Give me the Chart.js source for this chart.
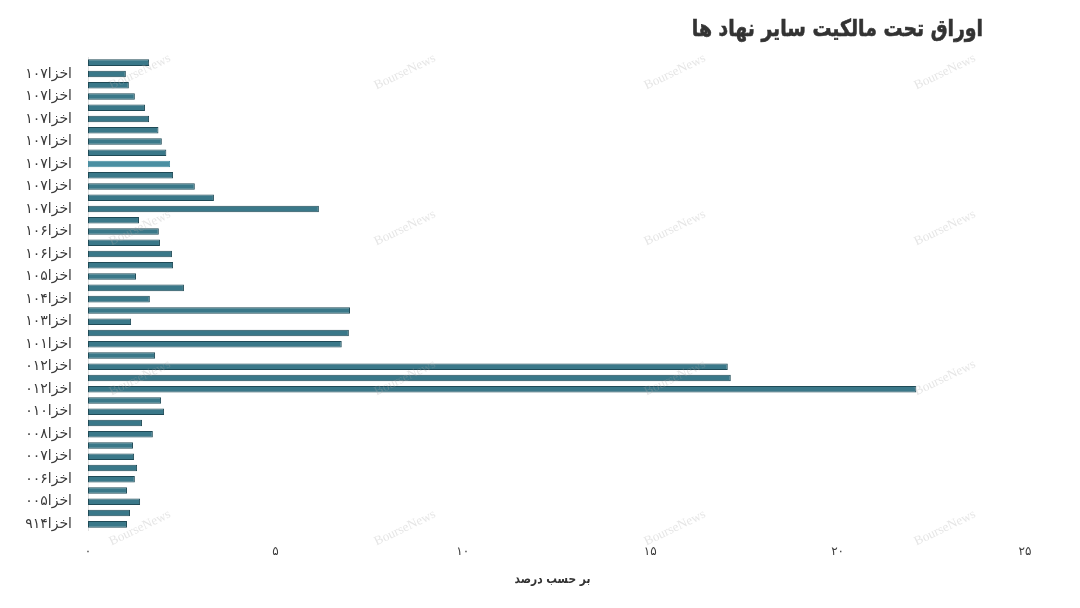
<!DOCTYPE html>
<html>
<head>
<meta charset="utf-8">
<title>اوراق تحت مالکیت سایر نهاد ها</title>
<script src="https://cdn.jsdelivr.net/npm/chart.js@4.4.0/dist/chart.umd.min.js"></script>
<style>
    html, body { margin: 0; padding: 0; background: #ffffff; }
    #wrap { width: 1080px; height: 608px; }
</style>
</head>
<body>
<div id="wrap"><canvas id="chart" width="1080" height="608"></canvas></div>
<script>
// Categories, top to bottom (only every other one is labelled in the original)
const categories = [
    'اخزا۱۰۷', 'اخزا۱۰۷', 'اخزا۱۰۷', 'اخزا۱۰۷', 'اخزا۱۰۷', 'اخزا۱۰۷',
    'اخزا۱۰۷', 'اخزا۱۰۷', 'اخزا۱۰۷', 'اخزا۱۰۷', 'اخزا۱۰۷', 'اخزا۱۰۷',
    'اخزا۱۰۷', 'اخزا۱۰۷', 'اخزا۱۰۶', 'اخزا۱۰۶', 'اخزا۱۰۶', 'اخزا۱۰۶',
    'اخزا۱۰۵', 'اخزا۱۰۵', 'اخزا۱۰۴', 'اخزا۱۰۴', 'اخزا۱۰۳', 'اخزا۱۰۳',
    'اخزا۱۰۲', 'اخزا۱۰۱', 'اخزا۱۰۰', 'اخزا۰۱۲', 'اخزا۰۱۲', 'اخزا۰۱۲',
    'اخزا۰۱۱', 'اخزا۰۱۰', 'اخزا۰۰۹', 'اخزا۰۰۸', 'اخزا۰۰۸', 'اخزا۰۰۷',
    'اخزا۰۰۷', 'اخزا۰۰۶', 'اخزا۰۰۶', 'اخزا۰۰۵', 'اخزا۹۱۵', 'اخزا۹۱۴'
];

// Share held by other institutions (percent), same order as categories
const shares = [
    1.63, 1.01, 1.09, 1.25, 1.52, 1.63, 1.88, 1.97, 2.09, 2.19, 2.27, 2.85,
    3.36, 6.16, 1.36, 1.89, 1.92, 2.24, 2.27, 1.28, 2.56, 1.65, 6.99, 1.15,
    6.96, 6.77, 1.79, 17.07, 17.15, 22.1, 1.95, 2.03, 1.44, 1.73, 1.20, 1.23,
    1.31, 1.25, 1.04, 1.39, 1.12, 1.04
];

const xTickValues = [0, 5, 10, 15, 20, 25];
const chartTitle = 'اوراق تحت مالکیت سایر نهاد ها';
const axisTitle = 'بر حسب درصد';
const watermark = 'BourseNews';

const FONT = "'DejaVu Sans', sans-serif";

function toPersianDigits(n) {
    return String(n).replace(/\d/g, d => '۰۱۲۳۴۵۶۷۸۹'[d]);
}

// Title in the top right corner (heavy, slightly condensed)
const titlePlugin = {
    id: 'cornerTitle',
    afterDraw(chart) {
        const ctx = chart.ctx;
        ctx.save();
        ctx.font = "bold 23px " + FONT;
        ctx.fillStyle = '#333333';
        ctx.textAlign = 'right';
        ctx.textBaseline = 'middle';
        ctx.direction = 'rtl';
        ctx.translate(983, 30);
        ctx.scale(0.82, 1);
        ctx.fillText(chartTitle, 0, 0);
        ctx.strokeStyle = '#333333';
        ctx.lineWidth = 0.6;
        ctx.strokeText(chartTitle, 0, 0);
        ctx.restore();
    }
};

// Axis caption under the x ticks
const captionPlugin = {
    id: 'axisCaption',
    afterDraw(chart) {
        const ctx = chart.ctx;
        const area = chart.chartArea;
        ctx.save();
        ctx.font = "bold 13px " + FONT;
        ctx.fillStyle = '#333333';
        ctx.textAlign = 'center';
        ctx.textBaseline = 'alphabetic';
        ctx.direction = 'rtl';
        ctx.translate((area.left + area.right) / 2 - 4, 583);
        ctx.scale(0.82, 1);
        ctx.fillText(axisTitle, 0, 0);
        ctx.restore();
    }
};

// Faint diagonal watermark grid
const watermarkPlugin = {
    id: 'watermark',
    afterDraw(chart) {
        const ctx = chart.ctx;
        const cols = [140, 405, 675, 945];
        const rows = [72, 228, 378, 528];
        ctx.save();
        ctx.font = "13px 'Liberation Serif', serif";
        ctx.fillStyle = 'rgba(170, 170, 170, 0.3)';
        ctx.textAlign = 'center';
        ctx.textBaseline = 'middle';
        rows.forEach(y => {
            cols.forEach(x => {
                ctx.save();
                ctx.translate(x, y);
                ctx.rotate(-0.45);
                ctx.fillText(watermark, 0, 0);
                ctx.restore();
            });
        });
        ctx.restore();
    }
};

const ctx = document.getElementById('chart');

new Chart(ctx, {
    type: 'bar',
    data: {
        labels: categories,
        datasets: [{
            data: shares,
            backgroundColor: shares.map((v, i) => i === 9 ? '#4a8fa2' : '#3a7889'),
            borderColor: shares.map((v, i) => i === 9 ? '#4a8fa2' : '#1f4a56'),
            borderWidth: 1,
            borderSkipped: false,
            barPercentage: 0.58,
            categoryPercentage: 1.0
        }]
    },
    options: {
        indexAxis: 'y',
        responsive: false,
        animation: false,
        devicePixelRatio: 1,
        layout: {
            padding: { top: 57, right: 55, bottom: 0, left: 0 }
        },
        plugins: {
            legend: { display: false },
            tooltip: { enabled: false },
            title: { display: false }
        },
        scales: {
            x: {
                min: 0,
                max: 25,
                afterBuildTicks(scale) {
                    scale.ticks = xTickValues.map(v => ({ value: v }));
                },
                afterFit(scale) {
                    scale.height = 78;
                },
                grid: { display: false, drawTicks: false },
                border: { display: false },
                ticks: {
                    padding: 15,
                    color: '#3d3d3d',
                    font: { family: FONT, size: 12 },
                    callback: v => toPersianDigits(v)
                }
            },
            y: {
                afterFit(scale) {
                    scale.width = 88;
                },
                grid: { display: false, drawTicks: false },
                border: { display: true, color: '#e2e2e2' },
                ticks: {
                    autoSkip: false,
                    padding: 16,
                    color: '#3a3a3a',
                    font: { family: FONT, size: 14 },
                    callback: (v, i) => i % 2 === 1 ? categories[i] : ''
                }
            }
        }
    },
    plugins: [watermarkPlugin, titlePlugin, captionPlugin]
});
</script>
</body>
</html>
